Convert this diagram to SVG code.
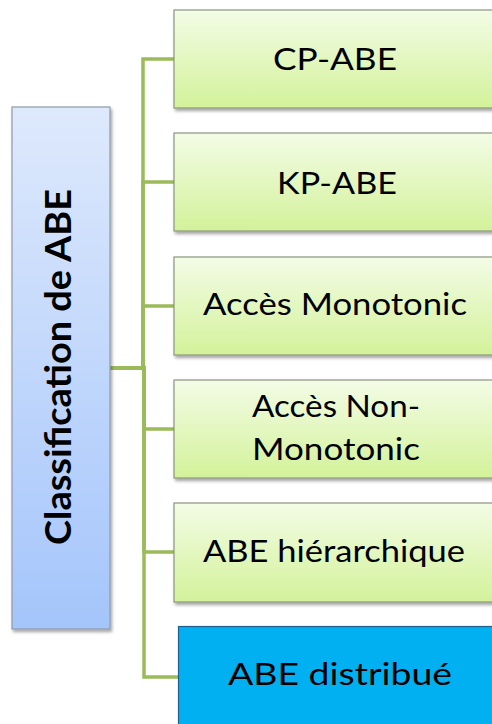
<svg xmlns="http://www.w3.org/2000/svg" width="492" height="724" viewBox="0 0 492 724">
  <defs>
    <linearGradient id="gBlue" x1="0" y1="0" x2="0" y2="1">
      <stop offset="0" stop-color="#dee9fc"/>
      <stop offset="1" stop-color="#a4c5fb"/>
    </linearGradient>
    <linearGradient id="gGreen" x1="0" y1="0" x2="0" y2="1">
      <stop offset="0" stop-color="#f3fce6"/>
      <stop offset="1" stop-color="#d3f29a"/>
    </linearGradient>
    <filter id="shadow" x="-10%" y="-10%" width="130%" height="130%">
      <feDropShadow dx="1.5" dy="2.5" stdDeviation="1.5" flood-color="#000" flood-opacity="0.35"/>
    </filter>
  </defs>
  <style>
    .root { fill: url(#gBlue); stroke: #8e9aab; stroke-width: 1.2; filter: url(#shadow); }
    .leaf { fill: url(#gGreen); stroke: #8c9580; stroke-width: 1.2; filter: url(#shadow); }
    .hot { fill: #00b0f0; stroke: #1f5f8a; stroke-width: 1.2; }
    .lbl { font-family: Lato, "Open Sans", "Liberation Sans", sans-serif; font-size: 31px; fill: #000; text-anchor: middle; }
    .title { font-family: Lato, "Open Sans", "Liberation Sans", sans-serif; font-size: 37px; font-weight: bold; fill: #000; text-anchor: middle; }
    .link { fill: none; stroke: #9bbb59; stroke-width: 3.5; }
  </style>

  <rect width="492" height="724" fill="#ffffff"/>

  <!-- elbow connectors from the root to each category -->
  <g id="connectors">
    <path class="link" d="M110,368 H143 V59 H175"/>
    <path class="link" d="M110,368 H143 V182 H175"/>
    <path class="link" d="M110,368 H143 V306 H175"/>
    <path class="link" d="M110,368 H144 V429 H175"/>
    <path class="link" d="M110,368 H144 V552 H175"/>
    <path class="link" d="M110,368 H144 V677 H179"/>
  </g>

  <g id="root">
    <rect class="root" x="12" y="107" width="98" height="522"/>
    <text class="title" transform="translate(71,367) rotate(-90)" x="0" y="0" textLength="356" lengthAdjust="spacingAndGlyphs">Classification de ABE</text>
  </g>

  <g id="cp-abe">
    <rect class="leaf" x="174" y="10" width="330" height="98"/>
    <text class="lbl" x="335" y="70" textLength="124" lengthAdjust="spacingAndGlyphs">CP-ABE</text>
  </g>

  <g id="kp-abe">
    <rect class="leaf" x="174" y="133" width="330" height="98"/>
    <text class="lbl" x="337" y="194" textLength="120" lengthAdjust="spacingAndGlyphs">KP-ABE</text>
  </g>

  <g id="acces-monotonic">
    <rect class="leaf" x="174" y="257" width="330" height="98"/>
    <text class="lbl" x="335" y="315" textLength="264" lengthAdjust="spacingAndGlyphs">Accès Monotonic</text>
  </g>

  <g id="acces-non-monotonic">
    <rect class="leaf" x="174" y="380" width="330" height="98"/>
    <text class="lbl" x="336" y="417" textLength="168" lengthAdjust="spacingAndGlyphs">Accès Non-</text>
    <text class="lbl" x="336" y="460" textLength="168" lengthAdjust="spacingAndGlyphs">Monotonic</text>
  </g>

  <g id="abe-hierarchique">
    <rect class="leaf" x="174" y="503" width="330" height="99"/>
    <text class="lbl" x="334" y="562" textLength="262" lengthAdjust="spacingAndGlyphs">ABE hiérarchique</text>
  </g>

  <g id="abe-distribue">
    <rect class="hot" x="178.5" y="626.5" width="330" height="110"/>
    <text class="lbl" x="340" y="685" textLength="224" lengthAdjust="spacingAndGlyphs">ABE distribué</text>
  </g>
</svg>
